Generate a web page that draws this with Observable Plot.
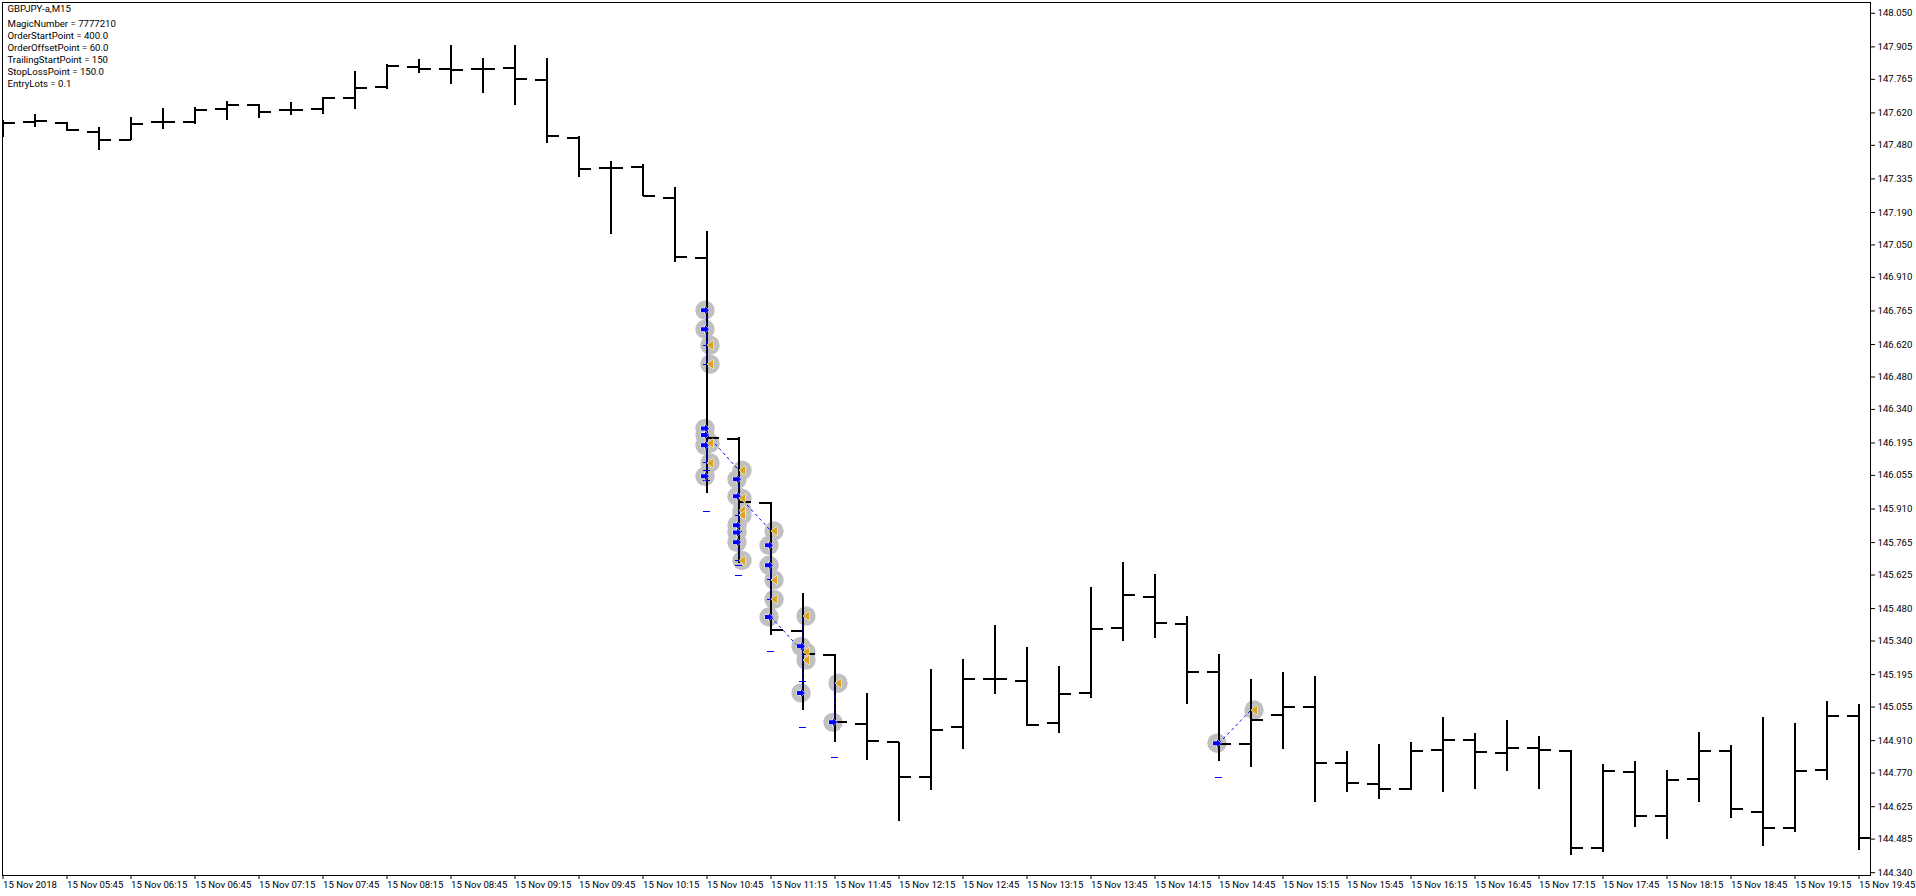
<!DOCTYPE html>
<html>
<head>
<meta charset="utf-8">
<script src="https://cdn.jsdelivr.net/npm/d3@7"></script>
<script src="https://cdn.jsdelivr.net/npm/@observablehq/plot@0.6"></script>
<style>
html,body{margin:0;padding:0;background:#fff;overflow:hidden}
svg{display:block}
</style>
</head>
<body>
<div id="chart"></div>
<script>
const opens = [147.578,147.579,147.578,147.538,147.503,147.579,147.581,147.637,147.655,147.633,147.637,147.686,147.732,147.819,147.810,147.810,147.814,147.762,147.512,147.382,147.386,147.253,146.994,146.214,145.937,145.383,145.280,144.982,144.904,144.753,144.969,145.176,145.168,144.986,145.116,145.396,145.530,145.414,145.206,144.895,145.022,145.055,144.813,144.723,144.701,144.870,144.913,144.857,144.878,144.867,144.447,144.775,144.585,144.744,144.865,144.602,144.534,144.783,145.018];
const highs = [147.586,147.615,147.578,147.558,147.598,147.641,147.642,147.670,147.655,147.666,147.686,147.800,147.830,147.851,147.909,147.857,147.913,147.853,147.517,147.412,147.398,147.300,147.110,146.220,145.940,145.546,145.280,145.114,144.904,145.215,145.262,145.405,145.314,145.228,145.573,145.677,145.629,145.448,145.284,145.176,145.206,145.189,144.861,144.895,144.900,145.008,144.939,144.999,144.930,144.867,144.809,144.822,144.779,144.947,144.887,145.012,144.986,145.077,145.068];
const lows = [147.515,147.555,147.539,147.457,147.500,147.548,147.568,147.586,147.595,147.608,147.612,147.633,147.722,147.788,147.742,147.702,147.654,147.486,147.339,147.093,147.261,146.973,145.978,145.673,145.363,145.039,144.901,144.823,144.559,144.694,144.870,145.111,144.970,144.939,145.090,145.336,145.353,145.068,144.819,144.792,144.870,144.641,144.688,144.654,144.696,144.684,144.701,144.775,144.697,144.416,144.429,144.533,144.485,144.645,144.573,144.452,144.512,144.737,144.435];
const closes = [147.578,147.586,147.546,147.503,147.572,147.581,147.631,147.655,147.625,147.634,147.686,147.729,147.821,147.810,147.805,147.810,147.766,147.520,147.378,147.382,147.261,146.998,146.218,145.942,145.389,145.284,144.992,144.908,144.753,144.956,145.176,145.176,144.978,145.111,145.392,145.539,145.418,145.206,144.895,144.999,145.055,144.813,144.727,144.701,144.865,144.913,144.861,144.878,144.870,144.447,144.779,144.585,144.740,144.865,144.616,144.534,144.779,145.018,144.491];

const blueBars = [22,22,22,22,22,22,23,23,23,23,23,24,24,24,25,25,26,38];
const bluePrices = [146.768,146.686,146.258,146.230,146.185,146.051,146.038,145.965,145.840,145.809,145.766,145.753,145.667,145.444,145.317,145.116,144.989,144.899];
const orangeBars = [22,22,22,22,23,23,23,23,23,24,24,24,25,25,25,26,39];
const orangePrices = [146.617,146.535,146.194,146.109,146.077,145.956,145.904,145.884,145.688,145.815,145.604,145.520,145.448,145.293,145.258,145.158,145.042];

const dashBars = [22,22,22,22,22,22,22,23,23,23,23,23,24,24,24,25,25,26,38];
const dashPrices = [145.901,146.078,146.035,146.617,146.535,146.109,146.194,145.621,145.664,145.815,145.884,145.688,145.293,145.604,145.520,144.965,145.167,144.839,144.749];

const linkFromBars = [22,23,24,38,22,22,22,22,23,23,23,23,24,24,25,25,26];
const linkFromPrices = [146.230,145.965,145.444,144.899,146.768,146.686,146.258,146.051,146.038,145.840,145.809,145.766,145.753,145.667,145.317,145.116,144.989];
const linkToBars = [23,24,25,39,22,22,22,22,23,23,23,23,24,24,25,25,26];
const linkToPrices = [146.077,145.815,145.293,145.042,146.617,146.535,146.109,146.194,145.956,145.904,145.884,145.688,145.604,145.520,145.258,145.448,145.158];

const yTicks = [148.050,147.905,147.765,147.620,147.480,147.335,147.190,147.050,146.910,146.765,146.620,146.480,146.340,146.195,146.055,145.910,145.765,145.625,145.480,145.340,145.195,145.055,144.910,144.770,144.625,144.485,144.340];
const xLabels = ["15 Nov 2018","15 Nov 05:45","15 Nov 06:15","15 Nov 06:45","15 Nov 07:15","15 Nov 07:45","15 Nov 08:15","15 Nov 08:45","15 Nov 09:15","15 Nov 09:45","15 Nov 10:15","15 Nov 10:45","15 Nov 11:15","15 Nov 11:45","15 Nov 12:15","15 Nov 12:45","15 Nov 13:15","15 Nov 13:45","15 Nov 14:15","15 Nov 14:45","15 Nov 15:15","15 Nov 15:45","15 Nov 16:15","15 Nov 16:45","15 Nov 17:15","15 Nov 17:45","15 Nov 18:15","15 Nov 18:45","15 Nov 19:15","15 Nov 19:45"];
const header = "GBPJPY-a,M15";
const params = ["MagicNumber = 7777210","OrderStartPoint = 400.0","OrderOffsetPoint = 60.0","TrailingStartPoint = 150","StopLossPoint = 150.0","EntryLots = 0.1"];

const FONT = "Roboto, 'Liberation Sans', sans-serif";
const start = Date.UTC(2018,10,15,5,15);
const MIN = 60000, BAR = 15*MIN;
const t = i => new Date(start + i*BAR);
const pxMin = 15/32;                 // minutes of time per screen pixel
const shift = (i,px) => new Date(start + i*BAR + px*pxMin*MIN);

const bars = opens.map((o,i)=>({t:t(i),i,o,h:highs[i],l:lows[i],c:closes[i]}));
const blues = blueBars.map((b,i)=>({t:t(b),p:bluePrices[i]}));
const oranges = orangeBars.map((b,i)=>({t:t(b),p:orangePrices[i]}));
const dashes = dashBars.map((b,i)=>({b,p:dashPrices[i]}));
const links = linkFromBars.map((b,i)=>({a:t(b),p:linkFromPrices[i],b:t(linkToBars[i]),q:linkToPrices[i]}));
const xTicks = xLabels.map((_,i)=>t(i*2));
const xFmt = new Map(xTicks.map((d,i)=>[+d,xLabels[i]]));

const arrowSymbol = {draw(c,size){
  const k=Math.sqrt(size/Math.PI)/4;
  const pts=[[-4,-2],[0,-2],[0,-4],[4,0],[0,4],[0,2],[-4,2]];
  pts.forEach(([x,y],i)=> i? c.lineTo(x*k,y*k): c.moveTo(x*k,y*k));
  c.closePath();
}};
const triSymbol = {draw(c,size){
  const k=Math.sqrt(size/Math.PI)/4;
  c.moveTo(-3*k,0);c.lineTo(3*k,-4.5*k);c.lineTo(3*k,4.5*k);c.closePath();
}};

const chart = Plot.plot({
  width:1916,height:896,
  marginLeft:2,marginRight:46,marginTop:2,marginBottom:21,
  style:{background:"#fff",fontFamily:FONT,fontSize:"9.6px",color:"#000"},
  x:{type:"utc",domain:[shift(0,-0.5),shift(0,1867.5)]},
  y:{domain:[144.3278,148.0966]},
  marks:[
    Plot.dot(blues,{x:"t",y:"p",r:9.7,dx:-2,fill:"#c0c0c0"}),
    Plot.dot(oranges,{x:"t",y:"p",r:9.7,dx:3,fill:"#c0c0c0"}),
    Plot.frame({stroke:"#000",strokeWidth:1}),
    Plot.ruleX(bars,{x:"t",y1:"l",y2:"h",stroke:"#000",strokeWidth:2,shapeRendering:"crispEdges"}),
    Plot.ruleY(bars,{y:"o",x1:d=>shift(d.i,-12),x2:"t",stroke:"#000",strokeWidth:2,clip:true,shapeRendering:"crispEdges"}),
    Plot.ruleY(bars,{y:"c",x1:"t",x2:d=>shift(d.i,12),stroke:"#000",strokeWidth:2,clip:true,shapeRendering:"crispEdges"}),
    Plot.ruleY(dashes,{y:"p",x1:d=>shift(d.b,-3.5),x2:d=>shift(d.b,3.5),stroke:"#0000ff",strokeWidth:1,shapeRendering:"crispEdges"}),
    Plot.link(links,{x1:"a",y1:"p",x2:"b",y2:"q",stroke:"#0000ff",strokeWidth:1,strokeDasharray:"3,3"}),
    Plot.dot(blues,{x:"t",y:"p",r:4,dx:-2,symbol:arrowSymbol,fill:"#0000ff",stroke:"#fff",strokeWidth:1,paintOrder:"stroke"}),
    Plot.dot(oranges,{x:"t",y:"p",r:4,dx:3,symbol:triSymbol,fill:"#daa520",stroke:"#fff",strokeWidth:1,paintOrder:"stroke"}),
    Plot.axisY({anchor:"right",ticks:yTicks,tickFormat:d=>d.toFixed(3),tickSize:4,tickPadding:3,label:null,stroke:"#000",fill:"#000",fontSize:9.6}),
    Plot.axisX({anchor:"bottom",ticks:xTicks,tickFormat:d=>xFmt.get(+d),tickSize:4,tickPadding:1.5,label:null,textAnchor:"start",lineAnchor:"top",stroke:"#000",fill:"#000",fontSize:9.6}),
    Plot.text([header],{text:d=>d,frameAnchor:"top-left",dx:5,dy:3,fill:"#000",fontSize:9.6,lineAnchor:"top"}),
    Plot.text([params.join("\n")],{text:d=>d,frameAnchor:"top-left",dx:5,dy:16,lineHeight:1.25,fill:"#000",fontSize:9.6,lineAnchor:"top"})
  ]
});
document.getElementById("chart").appendChild(chart);
</script>
</body>
</html>
